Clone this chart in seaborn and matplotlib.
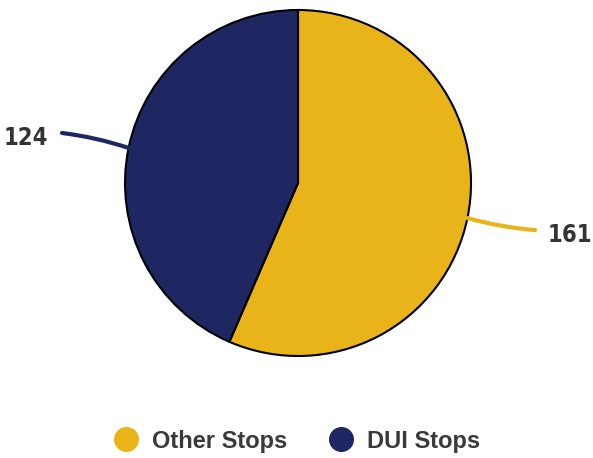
import matplotlib
matplotlib.use("Agg")
import matplotlib.pyplot as plt
from matplotlib.lines import Line2D
import numpy as np
import seaborn as sns

# Traffic stops breakdown
categories = ["Other Stops", "DUI Stops"]
counts = [161, 124]
colors = ["#E9B419", "#1F2762"]

sns.set_theme(style="white")
plt.rcParams["font.family"] = ["Liberation Sans", "DejaVu Sans"]

fig = plt.figure(figsize=(5.93, 4.58), dpi=100)
ax = fig.add_axes([0.2108, 0.2227, 0.5835, 0.7555])

wedges, _ = ax.pie(counts, colors=colors, startangle=90, counterclock=False,
                   radius=1, wedgeprops=dict(edgecolor="black", linewidth=1.5))
ax.set_xlim(-1, 1)
ax.set_ylim(-1, 1)
ax.set_aspect("equal")
ax.axis("off")

# connector lines and value labels
label_pos = [(1.37, -0.272, 1.44, -0.30, "left"),
             (-1.364, 0.289, -1.445, 0.26, "right")]
for w, val, col, (ex, ey, tx, ty, ha) in zip(wedges, counts, colors, label_pos):
    ang = np.deg2rad((w.theta1 + w.theta2) / 2)
    sx, sy = np.cos(ang), np.sin(ang)
    ax.annotate("", xy=(ex, ey), xytext=(sx, sy),
                arrowprops=dict(arrowstyle="-", color=col, lw=3,
                                connectionstyle="arc3,rad=0.05",
                                shrinkA=0, shrinkB=0),
                annotation_clip=False)
    ax.text(tx, ty, str(val), ha=ha, va="center", fontsize=17,
            fontweight="bold", color="#333333",
            family="DejaVu Sans", fontstretch="condensed")

handles = [Line2D([0], [0], marker="o", linestyle="", markersize=17,
                  markerfacecolor=c, markeredgecolor=c) for c in colors]
leg = fig.legend(handles, categories, loc="center", bbox_to_anchor=(0.501, 0.037),
                 ncol=2, frameon=False, handlelength=1.0, handletextpad=0.6,
                 columnspacing=1.75, prop=dict(size=17, weight="bold"))
for t in leg.get_texts():
    t.set_color("#3a3a3a")

fig.savefig("out.png", dpi=100)
